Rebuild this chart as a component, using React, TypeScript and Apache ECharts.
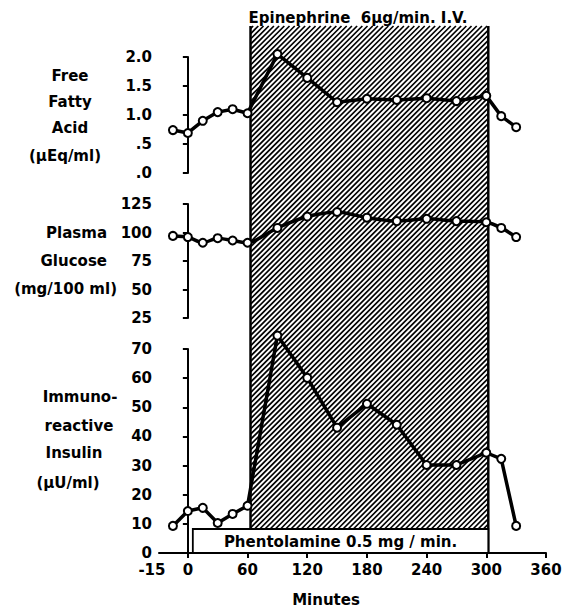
import React, { useEffect, useRef } from "react";
import * as echarts from "echarts";

// ---- data ----
const minutes = [-15, 0, 15, 30, 45, 60, 90, 120, 150, 180, 210, 240, 270, 300, 315, 330];
const freeFattyAcid = [0.74, 0.69, 0.9, 1.05, 1.1, 1.03, 2.05, 1.64, 1.22, 1.28, 1.26, 1.29, 1.24, 1.33, 0.98, 0.79];
const plasmaGlucose = [97, 96, 91, 95, 93, 91, 104, 114, 118, 113, 110, 112, 110, 109, 104, 96];
const insulin = [9.3, 14.4, 15.5, 10.3, 13.4, 16.2, 74.6, 60.1, 43, 51.2, 44, 30.2, 30.2, 34.4, 32.3, 9.3];

const xTickValues = [0, 60, 120, 180, 240, 300, 360];
const xLabelValues = [-15, 0, 60, 120, 180, 240, 300, 360];

const epinephrineStart = 63;
const epinephrineEnd = 302;
const epinephrineLabel = "Epinephrine  6\u03bcg/min. I.V.";
const phentolamineStart = 5;
const phentolamineEnd = 302;
const phentolamineLabel = "Phentolamine 0.5 mg / min.";

const ffaTitle = ["Free", "Fatty", "Acid", "(\u03bcEq/ml)"];
const glucoseTitle = ["Plasma", "Glucose", "(mg/100 ml)"];
const insulinTitle = ["Immuno-", "reactive", "Insulin", "(\u03bcU/ml)"];
const xTitle = "Minutes";

const X_MIN = -29;
const X_MAX = 360;

const FONT = "'DejaVu Sans', Verdana, sans-serif";

export default function App() {
  const ref = useRef<HTMLDivElement>(null);

  useEffect(() => {
    if (!ref.current) return;
    const chart = echarts.init(ref.current, undefined, { renderer: "svg" });

    const left = 159;
    const width = 387;

    const axisLine = { show: true, lineStyle: { color: "#000", width: 2 } };
    const axisTick = { show: true, length: 5, lineStyle: { color: "#000", width: 2 } };
    const axisLabel = { color: "#000", fontSize: 15, fontWeight: "bold" as const, fontFamily: FONT, margin: 7 };

    const hiddenX = (gi: number) => ({
      type: "value" as const,
      gridIndex: gi,
      min: X_MIN,
      max: X_MAX,
      show: false,
    });

    const lineSeries = (gi: number, values: number[], smooth: number | boolean = false) => ({
      type: "line" as const,
      xAxisIndex: gi,
      yAxisIndex: gi,
      data: minutes.map((t, i) => [t, values[i]]),
      symbol: "circle",
      symbolSize: 8,
      smooth,
      clip: false,
      z: 5,
      lineStyle: { color: "#000", width: 3.5 },
      itemStyle: { color: "#fff", borderColor: "#000", borderWidth: 2 },
      emphasis: { disabled: true },
    });

    const textEl = (text: string, x: number, y: number, align: string) => ({
      type: "text",
      x,
      y,
      silent: true,
      style: {
        text,
        fill: "#000",
        fontSize: 15,
        fontWeight: "bold",
        fontFamily: FONT,
        textAlign: align,
        textVerticalAlign: "middle",
        align,
        verticalAlign: "middle",
      },
    });

    const ffaTitlePos = [
      [70, 76],
      [70, 102],
      [70, 128],
      [65, 156],
    ];
    const glucoseTitlePos = [
      [107, 233],
      [107, 261],
      [117, 289],
    ];
    const insulinTitlePos = [
      [80, 397],
      [79, 426],
      [74, 453],
      [68, 483],
    ];

    const graphics: any[] = [];
    ffaTitle.forEach((t, i) => graphics.push(textEl(t, ffaTitlePos[i][0], ffaTitlePos[i][1], "center")));
    glucoseTitle.forEach((t, i) => graphics.push(textEl(t, glucoseTitlePos[i][0], glucoseTitlePos[i][1], "right")));
    insulinTitle.forEach((t, i) => graphics.push(textEl(t, insulinTitlePos[i][0], insulinTitlePos[i][1], "center")));
    graphics.push(textEl(xTitle, 326, 600, "center"));

    const option: any = {
      animation: false,
      backgroundColor: "#fff",
      grid: [
        { left, width, top: 57, height: 116 },
        { left, width, top: 204, height: 114 },
        { left, width, top: 349, height: 204 },
        { left, width, top: 26, height: 527 },
      ],
      xAxis: [
        hiddenX(0),
        hiddenX(1),
        {
          type: "value",
          gridIndex: 2,
          min: X_MIN,
          max: X_MAX,
          axisLine,
          axisTick: { ...axisTick, customValues: xTickValues },
          splitLine: { show: false },
          axisLabel: {
            ...axisLabel,
            margin: 9,
            customValues: xLabelValues,
            formatter: (v: number) => (v === -15 ? "{s|-15}" : String(v)),
            rich: {
              s: { color: "#000", fontSize: 15, fontWeight: "bold", fontFamily: FONT, padding: [0, 42, 0, 0] },
            },
          },
        },
        hiddenX(3),
      ],
      yAxis: [
        {
          type: "value",
          gridIndex: 0,
          min: 0,
          max: 2,
          interval: 0.5,
          axisLine,
          axisTick,
          splitLine: { show: false },
          axisLabel: {
            ...axisLabel,
            formatter: (v: number) => (v < 1 ? "." + String(Math.round(v * 10)) : v.toFixed(1)),
          },
        },
        {
          type: "value",
          gridIndex: 1,
          min: 25,
          max: 125,
          interval: 25,
          axisLine,
          axisTick,
          splitLine: { show: false },
          axisLabel,
        },
        {
          type: "value",
          gridIndex: 2,
          min: 0,
          max: 70,
          interval: 10,
          axisLine,
          axisTick,
          splitLine: { show: false },
          axisLabel,
        },
        { type: "value", gridIndex: 3, min: 0, max: 1, show: false },
      ],
      series: [
        {
          type: "custom",
          xAxisIndex: 3,
          yAxisIndex: 3,
          z: 1,
          silent: true,
          clip: false,
          encode: { x: [0, 1, 2, 3] },
          data: [[epinephrineStart, epinephrineEnd, phentolamineStart, phentolamineEnd]],
          renderItem: (params: any, api: any) => {
            const es = api.value(0);
            const ee = api.value(1);
            const ps = api.value(2);
            const pe = api.value(3);
            const pTop = api.coord([es, 1]);
            const x0 = pTop[0];
            const top = pTop[1];
            const x1 = api.coord([ee, 1])[0];
            const bottom = api.coord([es, 0])[1];
            const boxH = 24;
            const hb = bottom - boxH;
            const bx0 = api.coord([ps, 0])[0];
            const bx1 = api.coord([pe, 0])[0];
            const children: any[] = [];
            const s = 5.2;
            for (let c = x0 + top + s * 0.5; c < x1 + hb; c += s) {
              const xa = Math.max(x0, c - hb);
              const xb = Math.min(x1, c - top);
              if (xb <= xa) continue;
              children.push({
                type: "line",
                shape: { x1: xa, y1: c - xa, x2: xb, y2: c - xb },
                style: { stroke: "#000", lineWidth: 1.7 },
              });
            }
            children.push({
              type: "line",
              shape: { x1: x0, y1: top, x2: x0, y2: hb },
              style: { stroke: "#000", lineWidth: 2.5 },
            });
            children.push({
              type: "line",
              shape: { x1: x1, y1: top, x2: x1, y2: bottom },
              style: { stroke: "#000", lineWidth: 2.5 },
            });
            children.push({
              type: "rect",
              shape: { x: bx0, y: hb, width: bx1 - bx0, height: boxH },
              style: { fill: "#fff", stroke: "#000", lineWidth: 1.8 },
            });
            children.push({
              type: "text",
              style: {
                text: phentolamineLabel,
                x: (bx0 + bx1) / 2,
                y: hb + boxH / 2 + 1,
                fill: "#000",
                fontSize: 15,
                fontWeight: "bold",
                fontFamily: FONT,
                align: "center",
                verticalAlign: "middle",
              },
            });
            children.push({
              type: "text",
              style: {
                text: epinephrineLabel,
                x: x0 - 2,
                y: top - 8,
                fill: "#000",
                fontSize: 15,
                fontWeight: "bold",
                fontFamily: FONT,
                align: "left",
                verticalAlign: "middle",
              },
            });
            return { type: "group", children };
          },
        },
        lineSeries(0, freeFattyAcid),
        lineSeries(1, plasmaGlucose, 0.25),
        lineSeries(2, insulin),
      ],
      graphic: { elements: graphics },
    };

    chart.setOption(option);
    return () => chart.dispose();
  }, []);

  return (
    <div
      ref={ref}
      style={{ position: "fixed", left: 0, top: 0, width: 571, height: 610, background: "#fff" }}
    />
  );
}
